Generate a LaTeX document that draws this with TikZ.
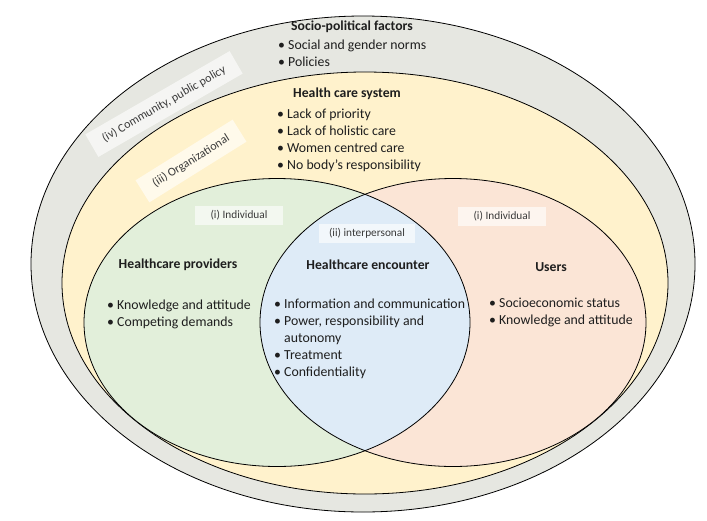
\documentclass[tikz,border=0pt]{standalone}
\usepackage{fontspec}
\setmainfont{Carlito}
\usetikzlibrary{positioning}
\definecolor{PolicyGray}{HTML}{E6E7E1}
\definecolor{SystemCream}{HTML}{FFF2CC}
\definecolor{ProviderGreen}{HTML}{E2EFDA}
\definecolor{UserPeach}{HTML}{FBE5D6}
\definecolor{EncounterBlue}{HTML}{DEEBF7}
\definecolor{Ink}{HTML}{1E1E1E}
\definecolor{LabelInk}{HTML}{3A3A3A}

\tikzset{
  levelbox/.style={fill=white, fill opacity=0.62, text opacity=1, inner xsep=10pt, inner ysep=0pt,
    minimum height=19pt, font=\fontsize{11.3}{13}\selectfont, text=LabelInk},
  tiltbox/.style={levelbox, minimum height=26pt, inner xsep=13pt, font=\fontsize{12}{14}\selectfont},
  headtext/.style={font=\fontsize{13.7}{16}\selectfont\bfseries, text=Ink},
  bullets/.style={anchor=north west, align=left, inner sep=0pt, font=\fontsize{13.8}{16.9}\selectfont, text=Ink},
  ring/.style={draw=black, line width=0.8pt},
}

\begin{document}
\begin{tikzpicture}[x=1pt, y=-1pt]
    \useasboundingbox (0,0) rectangle (707,520);
    % nested levels
    \fill[PolicyGray] (363,264) ellipse [x radius=332, y radius=248];
    \draw[ring] (363,264) ellipse [x radius=332, y radius=248];
    \fill[SystemCream] (365,283) ellipse [x radius=303, y radius=211];
    \draw[ring] (365,283) ellipse [x radius=303, y radius=211];
    \fill[ProviderGreen] (277,322.5) ellipse [x radius=193, y radius=144];
    \fill[UserPeach] (453,322.5) ellipse [x radius=193, y radius=144];
    \begin{scope}
      \clip (277,322.5) ellipse [x radius=193, y radius=144];
      \fill[EncounterBlue] (453,322.5) ellipse [x radius=193, y radius=144];
    \end{scope}
    \draw[ring] (277,322.5) ellipse [x radius=193, y radius=144];
    \draw[ring] (453,322.5) ellipse [x radius=193, y radius=144];

    % level labels
    \node[tiltbox, rotate=30] (community) at (164,104) {(iv) Community, public policy};
    \node[tiltbox, rotate=32] (organ) at (191,161) {(iii) Organizational};
    \node[levelbox, minimum width=88pt] (indivL) at (239,215) {(i) Individual};
    \node[levelbox, minimum width=88pt] (indivR) at (502,216) {(i) Individual};
    \node[levelbox, minimum width=96pt] (inter) at (367,233) {(ii) interpersonal};

    % socio-political
    \node[headtext] (socio) at (352,27) {Socio-political factors};
    \node[bullets] (sociolist) at (278,40) {• Social and gender norms\\• Policies};

    % health care system
    \node[headtext] (system) at (347,94) {Health care system};
    \node[bullets] (systemlist) at (277,109) {• Lack of priority\\• Lack of holistic care\\• Women centred care\\• No body’s responsibility};

    % providers, encounter, users
    \node[headtext] (providers) at (178,265) {Healthcare providers};
    \node[bullets] (providerlist) at (107,300) {• Knowledge and attitude\\• Competing demands};
    \node[headtext] (encounter) at (368,265) {Healthcare encounter};
    \node[bullets] (encounterlist) at (274,299) {• Information and communication\\• Power, responsibility and\\\phantom{• }autonomy\\• Treatment\\• Confidentiality};
    \node[headtext] (users) at (551,267) {Users};
    \node[bullets] (userlist) at (489,298) {• Socioeconomic status\\• Knowledge and attitude};
  \end{tikzpicture}
\end{document}
